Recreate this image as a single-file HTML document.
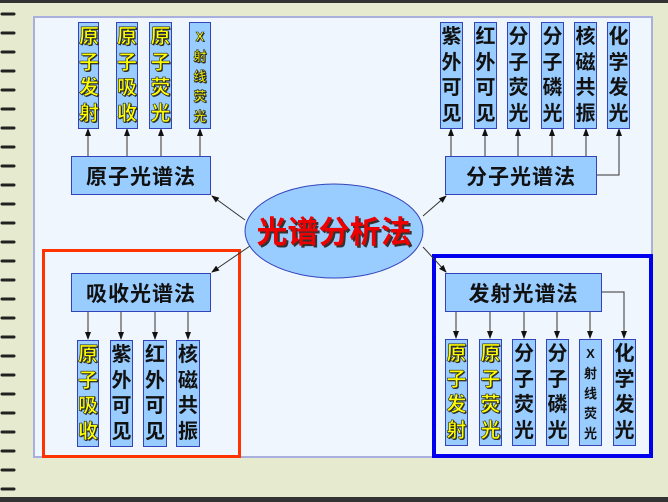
<!DOCTYPE html>
<html><head><meta charset="utf-8"><style>
*{margin:0;padding:0;box-sizing:border-box}
body{width:668px;height:502px;overflow:hidden;background:#e6ebcf;position:relative;font-family:"Liberation Sans","Noto Sans CJK SC",sans-serif;font-weight:bold}
.abs{position:absolute}
.panel{left:33px;top:16px;width:620px;height:442px;background:#f0f6fd;border:2px solid #aab0dd}
.b{position:absolute;background:#99ccff;border:1px solid #3344bb}
.h{font-size:21px;color:#111;display:flex;align-items:center;justify-content:center;letter-spacing:1px}
.c{font-size:20px;line-height:25.5px;text-align:center;padding-top:2px;color:#111}
.y{color:#ffff00;-webkit-text-stroke:0.6px #222;text-shadow:1px 1px 0 #333}
.x{font-size:13px;line-height:20px;padding-top:4px}
</style></head><body>
<div class="abs" style="left:0;top:0;width:668px;height:3px;background:#333"></div>
<div class="abs" style="left:0;top:497px;width:668px;height:5px;background:#333"></div>
<svg class="abs" style="left:0;top:0" width="24" height="502">
<g stroke="#222" stroke-width="3" stroke-linecap="round">
<line x1="2" y1="14" x2="14" y2="14"/><line x1="2" y1="33" x2="14" y2="33"/><line x1="2" y1="52" x2="14" y2="52"/><line x1="2" y1="71" x2="14" y2="71"/><line x1="2" y1="90" x2="14" y2="90"/><line x1="2" y1="109" x2="14" y2="109"/><line x1="2" y1="128" x2="14" y2="128"/><line x1="2" y1="147" x2="14" y2="147"/><line x1="2" y1="166" x2="14" y2="166"/><line x1="2" y1="185" x2="14" y2="185"/><line x1="2" y1="204" x2="14" y2="204"/><line x1="2" y1="223" x2="14" y2="223"/><line x1="2" y1="242" x2="14" y2="242"/><line x1="2" y1="261" x2="14" y2="261"/><line x1="2" y1="280" x2="14" y2="280"/><line x1="2" y1="299" x2="14" y2="299"/><line x1="2" y1="318" x2="14" y2="318"/><line x1="2" y1="337" x2="14" y2="337"/><line x1="2" y1="356" x2="14" y2="356"/><line x1="2" y1="375" x2="14" y2="375"/><line x1="2" y1="394" x2="14" y2="394"/><line x1="2" y1="413" x2="14" y2="413"/><line x1="2" y1="432" x2="14" y2="432"/><line x1="2" y1="451" x2="14" y2="451"/><line x1="2" y1="470" x2="14" y2="470"/><line x1="2" y1="489" x2="14" y2="489"/>
</g></svg>
<div class="abs panel"></div>
<div class="abs" style="left:42px;top:249px;width:199px;height:209px;border:3px solid #ff3300"></div>
<div class="abs" style="left:432px;top:254px;width:221px;height:204px;border:4px solid #0000ee"></div>

<svg class="abs" style="left:0;top:0" width="668" height="502">
<defs><marker id="a" markerWidth="8" markerHeight="8" refX="7" refY="4" orient="auto" markerUnits="userSpaceOnUse"><path d="M0,1 L8,4 L0,7z" fill="#111"/></marker></defs>
<g stroke="#333" stroke-width="1" fill="none" marker-end="url(#a)">
<line x1="88" y1="156" x2="88" y2="129"/><line x1="127" y1="156" x2="127" y2="129"/><line x1="161" y1="156" x2="161" y2="129"/><line x1="200" y1="156" x2="200" y2="129"/>
<line x1="451" y1="156" x2="451" y2="129"/><line x1="485" y1="156" x2="485" y2="129"/><line x1="518" y1="156" x2="518" y2="129"/><line x1="552" y1="156" x2="552" y2="129"/><line x1="586" y1="156" x2="586" y2="129"/>
<polyline points="597,175 619,175 619,129"/>
<line x1="88" y1="312" x2="88" y2="339"/><line x1="121" y1="312" x2="121" y2="339"/><line x1="155" y1="312" x2="155" y2="339"/><line x1="188" y1="312" x2="188" y2="339"/>
<line x1="456" y1="312" x2="456" y2="338"/><line x1="490" y1="312" x2="490" y2="338"/><line x1="524" y1="312" x2="524" y2="338"/><line x1="557" y1="312" x2="557" y2="338"/><line x1="590" y1="312" x2="590" y2="338"/>
<polyline points="602,292 624,292 624,338"/>
<line x1="245" y1="220" x2="212" y2="196"/>
<line x1="423" y1="216" x2="446" y2="196"/>
<line x1="250" y1="246" x2="212" y2="272"/>
<line x1="423" y1="247" x2="446" y2="272"/>
</g>
<ellipse cx="334" cy="231" rx="89" ry="47" fill="#99ccff" stroke="#3344bb" stroke-width="1"/>
<text x="336" y="245" font-size="31" font-weight="bold" fill="#333" text-anchor="middle" font-family="Liberation Sans,Noto Sans CJK SC,sans-serif">光谱分析法</text>
<text x="334" y="243" font-size="31" font-weight="bold" fill="#ee0000" text-anchor="middle" font-family="Liberation Sans,Noto Sans CJK SC,sans-serif">光谱分析法</text>
</svg>

<div class="b h" style="left:71px;top:156px;width:140px;height:39px">原子光谱法</div>
<div class="b h" style="left:445px;top:156px;width:152px;height:39px">分子光谱法</div>
<div class="b h" style="left:71px;top:273px;width:140px;height:39px">吸收光谱法</div>
<div class="b h" style="left:445px;top:273px;width:157px;height:39px">发射光谱法</div>

<div class="b c y" style="left:78px;top:22px;width:21px;height:107px">原<br>子<br>发<br>射</div>
<div class="b c y" style="left:116px;top:22px;width:22px;height:107px">原<br>子<br>吸<br>收</div>
<div class="b c y" style="left:149px;top:22px;width:23px;height:107px">原<br>子<br>荧<br>光</div>
<div class="b c y x" style="left:189px;top:22px;width:22px;height:107px">X<br>射<br>线<br>荧<br>光</div>

<div class="b c" style="left:440px;top:22px;width:23px;height:107px">紫<br>外<br>可<br>见</div>
<div class="b c" style="left:474px;top:22px;width:23px;height:107px">红<br>外<br>可<br>见</div>
<div class="b c" style="left:507px;top:22px;width:23px;height:107px">分<br>子<br>荧<br>光</div>
<div class="b c" style="left:541px;top:22px;width:23px;height:107px">分<br>子<br>磷<br>光</div>
<div class="b c" style="left:574px;top:22px;width:23px;height:107px">核<br>磁<br>共<br>振</div>
<div class="b c" style="left:607px;top:22px;width:23px;height:107px">化<br>学<br>发<br>光</div>

<div class="b c y" style="left:77px;top:340px;width:22px;height:107px">原<br>子<br>吸<br>收</div>
<div class="b c" style="left:110px;top:340px;width:23px;height:107px">紫<br>外<br>可<br>见</div>
<div class="b c" style="left:143px;top:340px;width:24px;height:107px">红<br>外<br>可<br>见</div>
<div class="b c" style="left:176px;top:340px;width:24px;height:107px">核<br>磁<br>共<br>振</div>

<div class="b c y" style="left:445px;top:339px;width:23px;height:107px">原<br>子<br>发<br>射</div>
<div class="b c y" style="left:479px;top:339px;width:23px;height:107px">原<br>子<br>荧<br>光</div>
<div class="b c" style="left:512px;top:339px;width:24px;height:107px">分<br>子<br>荧<br>光</div>
<div class="b c" style="left:546px;top:339px;width:23px;height:107px">分<br>子<br>磷<br>光</div>
<div class="b c x" style="left:579px;top:339px;width:23px;height:107px">X<br>射<br>线<br>荧<br>光</div>
<div class="b c" style="left:613px;top:339px;width:23px;height:107px">化<br>学<br>发<br>光</div>
</body></html>
